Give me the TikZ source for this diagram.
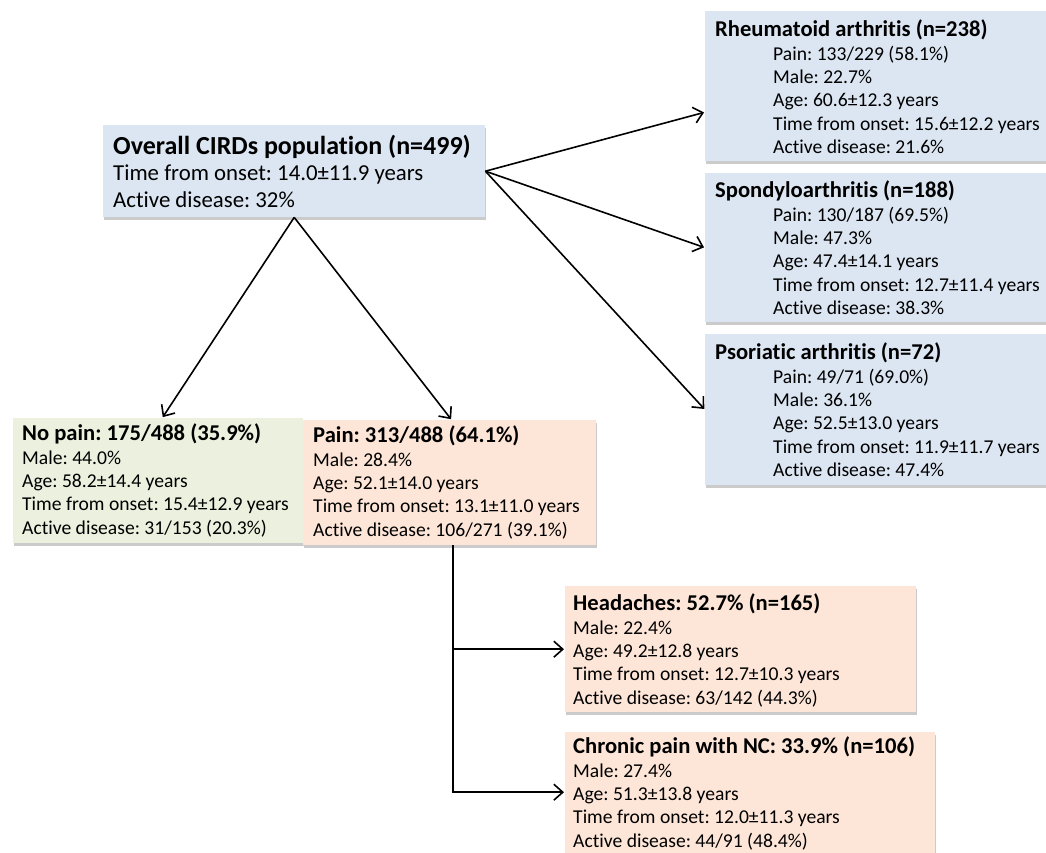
\documentclass[tikz,border=0pt]{standalone}
\usepackage{fontspec}
\setmainfont{Carlito}[Ligatures=NoCommon]
\usetikzlibrary{shadows,arrows.meta,calc}
\definecolor{bluebox}{HTML}{DCE6F2}
\definecolor{greenbox}{HTML}{EBF1DE}
\definecolor{peachbox}{HTML}{FDE6D8}
\frenchspacing
\begin{document}
\begin{tikzpicture}[x=1pt,y=-1pt,
  box/.style={draw=none, anchor=north west, inner sep=0pt,
    drop shadow={shadow xshift=1pt,shadow yshift=-2.5pt,fill=black!40,opacity=0.5}},
  txt/.style={anchor=north west, inner sep=0pt, align=left, font=\fontsize{19.6}{23.3}\selectfont},
  arr/.style={line width=1.6pt, shorten >=1pt, -{Straight Barb[length=9pt,width=16pt,line width=1.6pt]}},
  ln/.style={line width=1.6pt}]
\fill[white] (0,0) rectangle (1046,853);
\useasboundingbox (0,0) rectangle (1046,853);
% boxes
\node[box, fill=bluebox, minimum width=382pt, minimum height=92pt] (overall) at (103,125) {};
\node[box, fill=bluebox, minimum width=345pt, minimum height=150pt] (ra) at (705,11) {};
\node[box, fill=bluebox, minimum width=345pt, minimum height=149pt] (spa) at (705,173) {};
\node[box, fill=bluebox, minimum width=345pt, minimum height=151pt] (psa) at (705,334) {};
\node[box, fill=greenbox, minimum width=290pt, minimum height=125pt] (nopain) at (13,418) {};
\node[box, fill=peachbox, minimum width=293pt, minimum height=125pt] (pain) at (303,420) {};
\node[box, fill=peachbox, minimum width=351pt, minimum height=126pt] (head) at (565,586) {};
\node[box, fill=peachbox, minimum width=370pt, minimum height=140pt] (chron) at (565,732) {};
% texts
\newcommand{\ttlfont}{\fontsize{22.6}{23.3}\selectfont\bfseries}
\newcommand{\ind}{\hspace*{58pt}}
\node[txt, font=\fontsize{22.8}{26.5}\selectfont] (overallT) at (113,135)
  {{\fontsize{26}{26.5}\selectfont\bfseries Overall CIRDs population (n=499)}\\
   Time from onset: 14.0±11.9 years\\
   Active disease: 32\%};
\node[txt] (raT) at (715,20)
  {{\ttlfont Rheumatoid arthritis (n=238)}\\
   \ind Pain: 133/229 (58.1\%)\\
   \ind Male: 22.7\%\\
   \ind Age: 60.6±12.3 years\\
   \ind Time from onset: 15.6±12.2 years\\
   \ind Active disease: 21.6\%};
\node[txt] (spaT) at (715,181)
  {{\ttlfont Spondyloarthritis (n=188)}\\
   \ind Pain: 130/187 (69.5\%)\\
   \ind Male: 47.3\%\\
   \ind Age: 47.4±14.1 years\\
   \ind Time from onset: 12.7±11.4 years\\
   \ind Active disease: 38.3\%};
\node[txt] (psaT) at (715,343)
  {{\ttlfont Psoriatic arthritis (n=72)}\\
   \ind Pain: 49/71 (69.0\%)\\
   \ind Male: 36.1\%\\
   \ind Age: 52.5±13.0 years\\
   \ind Time from onset: 11.9±11.7 years\\
   \ind Active disease: 47.4\%};
\node[txt] (nopainT) at (22,424)
  {{\ttlfont No pain: 175/488 (35.9\%)}\\
   Male: 44.0\%\\
   Age: 58.2±14.4 years\\
   Time from onset: 15.4±12.9 years\\
   Active disease: 31/153 (20.3\%)};
\node[txt] (painT) at (313,426)
  {{\ttlfont Pain: 313/488 (64.1\%)}\\
   Male: 28.4\%\\
   Age: 52.1±14.0 years\\
   Time from onset: 13.1±11.0 years\\
   Active disease: 106/271 (39.1\%)};
\node[txt] (headT) at (573,594)
  {{\ttlfont Headaches: 52.7\% (n=165)}\\
   Male: 22.4\%\\
   Age: 49.2±12.8 years\\
   Time from onset: 12.7±10.3 years\\
   Active disease: 63/142 (44.3\%)};
\node[txt] (chronT) at (573,737)
  {{\ttlfont Chronic pain with NC: 33.9\% (n=106)}\\
   Male: 27.4\%\\
   Age: 51.3±13.8 years\\
   Time from onset: 12.0±11.3 years\\
   Active disease: 44/91 (48.4\%)};
% connectors
\draw[arr] (overall.east) -- ([yshift=-26pt]ra.west);
\draw[arr] (overall.east) -- (spa.west);
\draw[arr] (overall.east) -- (psa.west);
\draw[arr] (overall.south) -- ([xshift=4pt]nopain.north);
\draw[arr] (overall.south) -- ([xshift=2pt]pain.north);
\coordinate (pb) at ([xshift=3pt]pain.south);
\draw[arr] (pb) |- ([yshift=10pt]chron.west);
\draw[arr] (pb |- head.west) -- (head.west);
\end{tikzpicture}
\end{document}
